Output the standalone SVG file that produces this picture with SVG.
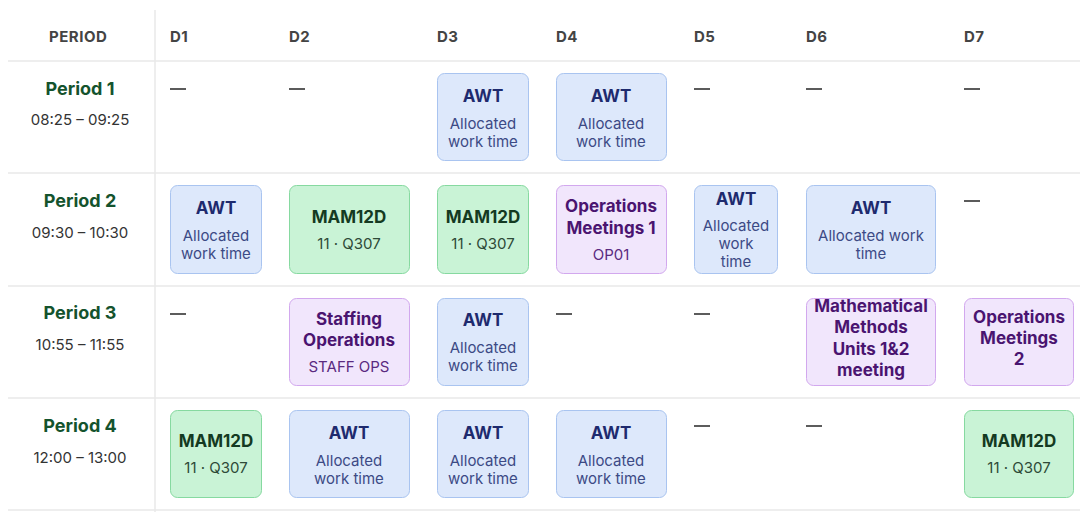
<svg xmlns="http://www.w3.org/2000/svg" width="1080" height="512" viewBox="0 0 1080 512">
<style>
text{font-family:Inter,"Noto Sans","Liberation Sans",sans-serif;text-anchor:middle}
.hd{font-size:15px;font-weight:700;fill:#444;text-anchor:start;letter-spacing:0.5px}
.pn{font-size:18px;font-weight:700;fill:#14532d}
.pt{font-size:15px;fill:#333}
.ln{stroke:#e8e8e8;stroke-width:1.5}
.dash{stroke:#333;stroke-width:1.6}
.b rect{fill:#dde8fb;stroke:#a9c4f0}
.b .t{font-size:17px;font-weight:700;fill:#1e2a6e}
.b .s{font-size:15px;fill:#3c4a85}
.g rect{fill:#c9f3d6;stroke:#86d9a0}
.g .t{font-size:17px;font-weight:700;fill:#143a22}
.g .s{font-size:15px;fill:#2e4a38}
.p rect{fill:#f1e6fc;stroke:#d2a8ee}
.p .t{font-size:17px;font-weight:700;fill:#4a1470}
.p .s{font-size:15px;fill:#5a2a80}
</style>
<rect width="1080" height="512" fill="#fff"/>
<g id="grid">
<line class="ln" x1="155" y1="10" x2="155" y2="512"/>
<line class="ln" x1="8" y1="61" x2="1080" y2="61"/>
<line class="ln" x1="8" y1="173" x2="1080" y2="173"/>
<line class="ln" x1="8" y1="286" x2="1080" y2="286"/>
<line class="ln" x1="8" y1="398" x2="1080" y2="398"/>
<line class="ln" x1="8" y1="510" x2="1080" y2="510"/>
</g>
<g id="header">
<text class="hd" x="49" y="42">PERIOD</text>
<text class="hd" x="170" y="42">D1</text>
<text class="hd" x="289" y="42">D2</text>
<text class="hd" x="437" y="42">D3</text>
<text class="hd" x="556" y="42">D4</text>
<text class="hd" x="694" y="42">D5</text>
<text class="hd" x="806" y="42">D6</text>
<text class="hd" x="964" y="42">D7</text>
</g>
<g id="periods">
<text class="pn" x="80" y="95">Period 1</text><text class="pt" x="80" y="125">08:25 – 09:25</text>
<text class="pn" x="80" y="207">Period 2</text><text class="pt" x="80" y="238">09:30 – 10:30</text>
<text class="pn" x="80" y="319">Period 3</text><text class="pt" x="80" y="350">10:55 – 11:55</text>
<text class="pn" x="80" y="432">Period 4</text><text class="pt" x="80" y="463">12:00 – 13:00</text>
</g>
<g id="dashes">
<line class="dash" x1="170" y1="89" x2="186" y2="89"/>
<line class="dash" x1="289" y1="89" x2="305" y2="89"/>
<line class="dash" x1="694" y1="89" x2="710" y2="89"/>
<line class="dash" x1="806" y1="89" x2="822" y2="89"/>
<line class="dash" x1="964" y1="89" x2="980" y2="89"/>
<line class="dash" x1="964" y1="201" x2="980" y2="201"/>
<line class="dash" x1="170" y1="314" x2="186" y2="314"/>
<line class="dash" x1="556" y1="314" x2="572" y2="314"/>
<line class="dash" x1="694" y1="314" x2="710" y2="314"/>
<line class="dash" x1="694" y1="426" x2="710" y2="426"/>
<line class="dash" x1="806" y1="426" x2="822" y2="426"/>
</g>
<g id="r1d3" class="b"><rect x="437.5" y="73.5" width="91" height="87" rx="7"/><text class="t" x="483" y="102">AWT</text><text class="s" x="483" y="129">Allocated</text><text class="s" x="483" y="147">work time</text></g>
<g id="r1d4" class="b"><rect x="556.5" y="73.5" width="110" height="87" rx="7"/><text class="t" x="611" y="102">AWT</text><text class="s" x="611" y="129">Allocated</text><text class="s" x="611" y="147">work time</text></g>
<g id="r2d1" class="b"><rect x="170.5" y="185.5" width="91" height="88" rx="7"/><text class="t" x="216" y="214">AWT</text><text class="s" x="216" y="241">Allocated</text><text class="s" x="216" y="259">work time</text></g>
<g id="r2d2" class="g"><rect x="289.5" y="185.5" width="120" height="88" rx="7"/><text class="t" x="349" y="223">MAM12D</text><text class="s" x="349" y="249">11 · Q307</text></g>
<g id="r2d3" class="g"><rect x="437.5" y="185.5" width="91" height="88" rx="7"/><text class="t" x="483" y="223">MAM12D</text><text class="s" x="483" y="249">11 · Q307</text></g>
<g id="r2d4" class="p"><rect x="556.5" y="185.5" width="110" height="88" rx="7"/><text class="t" x="611" y="212">Operations</text><text class="t" x="611" y="234">Meetings 1</text><text class="s" x="611" y="260">OP01</text></g>
<g id="r2d5" class="b"><rect x="694.5" y="185.5" width="83" height="88" rx="7"/><text class="t" x="736" y="205">AWT</text><text class="s" x="736" y="231">Allocated</text><text class="s" x="736" y="249">work</text><text class="s" x="736" y="267">time</text></g>
<g id="r2d6" class="b"><rect x="806.5" y="185.5" width="129" height="88" rx="7"/><text class="t" x="871" y="214">AWT</text><text class="s" x="871" y="241">Allocated work</text><text class="s" x="871" y="259">time</text></g>
<g id="r3d2" class="p"><rect x="289.5" y="298.5" width="120" height="87" rx="7"/><text class="t" x="349" y="325">Staffing</text><text class="t" x="349" y="346">Operations</text><text class="s" x="349" y="372">STAFF OPS</text></g>
<g id="r3d3" class="b"><rect x="437.5" y="298.5" width="91" height="87" rx="7"/><text class="t" x="483" y="326">AWT</text><text class="s" x="483" y="353">Allocated</text><text class="s" x="483" y="371">work time</text></g>
<g id="r3d6" class="p"><rect x="806.5" y="298.5" width="129" height="87" rx="7"/><text class="t" x="871" y="312">Mathematical</text><text class="t" x="871" y="333">Methods</text><text class="t" x="871" y="355">Units 1&amp;2</text><text class="t" x="871" y="376">meeting</text></g>
<g id="r3d7" class="p"><rect x="964.5" y="298.5" width="109" height="87" rx="7"/><text class="t" x="1019" y="323">Operations</text><text class="t" x="1019" y="344">Meetings</text><text class="t" x="1019" y="365">2</text></g>
<g id="r4d1" class="g"><rect x="170.5" y="410.5" width="91" height="87" rx="7"/><text class="t" x="216" y="447">MAM12D</text><text class="s" x="216" y="473">11 · Q307</text></g>
<g id="r4d2" class="b"><rect x="289.5" y="410.5" width="120" height="87" rx="7"/><text class="t" x="349" y="439">AWT</text><text class="s" x="349" y="466">Allocated</text><text class="s" x="349" y="484">work time</text></g>
<g id="r4d3" class="b"><rect x="437.5" y="410.5" width="91" height="87" rx="7"/><text class="t" x="483" y="439">AWT</text><text class="s" x="483" y="466">Allocated</text><text class="s" x="483" y="484">work time</text></g>
<g id="r4d4" class="b"><rect x="556.5" y="410.5" width="110" height="87" rx="7"/><text class="t" x="611" y="439">AWT</text><text class="s" x="611" y="466">Allocated</text><text class="s" x="611" y="484">work time</text></g>
<g id="r4d7" class="g"><rect x="964.5" y="410.5" width="109" height="87" rx="7"/><text class="t" x="1019" y="447">MAM12D</text><text class="s" x="1019" y="473">11 · Q307</text></g>
<g id="connectors"/>
</svg>
